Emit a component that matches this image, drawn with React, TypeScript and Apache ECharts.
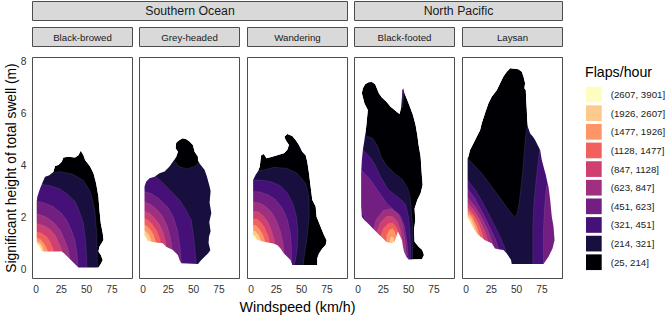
import React, { useEffect, useRef } from "react";
import * as echarts from "echarts";

const FONT = '"Liberation Sans", Arial, Helvetica, sans-serif';

// ---------- data ----------
const regionNames = ["Southern Ocean", "North Pacific"];
const regionPanelCounts = [3, 2];
const speciesNames = ["Black-browed", "Grey-headed", "Wandering", "Black-footed", "Laysan"];
const xTicks = [0, 25, 50, 75];
const yTicks = [0, 2, 4, 6, 8];
const flapLevels = [
  "(25, 214]", "(214, 321]", "(321, 451]", "(451, 623]", "(623, 847]",
  "(847, 1128]", "(1128, 1477]", "(1477, 1926]", "(1926, 2607]", "(2607, 3901]",
];
const magmaColors = [
  "#000004", "#180F3E", "#451077", "#721F81", "#9F2F7F",
  "#CD4071", "#F1605D", "#FD9567", "#FEC98D", "#FCFDBF",
];

// outline of the sampled region (lowest band) for each species: [windspeed, swell]
const blackBrowedHull = [
  [0.7, 2.59], [0.7, 1.05], [2.3, 0.86], [5.6, 0.67], [25.4, 0.67], [27.1, 0.63], [41.9, 0.06],
  [61.7, 0.06], [63.4, 0.15], [66.0, 0.35], [64.0, 0.54], [61.7, 0.67], [62.7, 0.86], [66.7, 1.12],
  [66.0, 1.37], [64.0, 1.76], [62.7, 2.27], [61.7, 2.78], [59.4, 3.3], [56.8, 3.68], [53.5, 3.94],
  [48.5, 4.19], [46.9, 4.38], [44.2, 4.55], [41.9, 4.38], [38.6, 4.29], [32.0, 4.32], [27.1, 4.29],
  [25.4, 4.13], [22.1, 4.0], [18.8, 3.96], [17.2, 3.74], [13.2, 3.61], [8.9, 3.55], [7.3, 3.4],
  [4.0, 3.1], [1.3, 2.78],
];
const greyHeadedHull = [
  [1.5, 3.17], [1.5, 1.24], [3.1, 1.11], [8.1, 1.05], [14.7, 1.01], [19.6, 0.99], [22.9, 0.86],
  [29.5, 0.73], [34.5, 0.54], [36.1, 0.35], [37.8, 0.22], [54.3, 0.19], [57.6, 0.35], [64.2, 0.6],
  [66.5, 0.72], [64.8, 1.0], [65.2, 1.24], [66.8, 1.45], [65.5, 1.8], [67.5, 2.15], [65.8, 2.55],
  [66.8, 3.0], [65.8, 3.17], [63.2, 3.55], [60.9, 3.81], [55.9, 4.06], [54.3, 4.19], [54.3, 4.32],
  [51.0, 4.51], [49.3, 4.77], [46.0, 4.9], [42.7, 4.99], [39.4, 5.03], [36.1, 4.96], [32.8, 4.86],
  [32.2, 4.64], [34.5, 4.51], [32.8, 4.32], [29.5, 4.13], [26.2, 3.94], [21.3, 3.75], [16.3, 3.68],
  [11.4, 3.55], [6.4, 3.49], [3.1, 3.36],
];
const wanderingHull = [
  [2.1, 1.24], [2.1, 3.42], [4.5, 3.62], [6.8, 3.75], [8.7, 3.94], [9.4, 4.19], [10.1, 4.38],
  [12.7, 4.42], [15.3, 4.26], [21.0, 4.32], [25.9, 4.38], [32.5, 4.45], [35.8, 4.58], [37.5, 4.77],
  [34.2, 4.96], [33.0, 5.09], [35.8, 5.19], [40.8, 5.12], [44.1, 4.96], [47.4, 4.77], [50.7, 4.51],
  [54.0, 4.38], [55.6, 4.13], [57.3, 3.68], [58.9, 3.17], [60.6, 2.65], [63.9, 2.4], [64.8, 2.01],
  [68.8, 1.63], [72.1, 1.31], [74.7, 1.11], [73.8, 0.92], [70.5, 0.79], [67.2, 0.6], [65.5, 0.41],
  [65.5, 0.15], [40.8, 0.15], [39.1, 0.35], [35.8, 0.47], [32.5, 0.6], [29.2, 0.79], [25.9, 0.92],
  [21.0, 0.99], [17.7, 1.01], [12.7, 1.05], [7.8, 1.11], [2.8, 1.18],
];
const blackFootedHull = [
  [4.8, 6.95], [7.1, 7.11], [10.4, 7.18], [13.7, 7.19], [17.0, 7.11], [18.6, 6.95], [20.6, 6.76],
  [23.6, 6.6], [27.9, 6.44], [32.2, 6.24], [36.1, 6.12], [39.4, 6.01], [41.1, 5.96], [42.7, 6.24],
  [43.4, 6.63], [43.7, 6.88], [44.7, 6.95], [46.0, 6.76], [48.7, 6.5], [51.3, 6.24], [54.3, 5.92],
  [56.9, 5.54], [58.6, 5.15], [59.9, 4.77], [61.9, 4.32], [62.5, 3.94], [63.2, 3.55], [63.9, 3.23],
  [61.9, 2.91], [58.6, 2.65], [55.9, 2.33], [56.6, 1.88], [55.3, 1.5], [55.9, 1.05], [59.9, 0.86],
  [63.5, 0.73], [65.2, 0.54], [63.2, 0.38], [50.0, 0.37], [47.7, 0.47], [45.4, 0.67], [44.4, 0.86],
  [43.4, 1.11], [41.1, 1.31], [39.4, 1.44], [37.8, 1.24], [36.1, 1.05], [32.8, 0.99], [27.9, 1.05],
  [24.6, 1.18], [19.6, 1.37], [14.7, 1.56], [9.7, 1.76], [6.4, 1.88], [3.8, 2.01], [3.1, 2.4],
  [3.1, 2.91], [3.1, 3.68], [3.8, 4.19], [4.8, 4.58], [6.4, 4.96], [8.1, 5.47], [9.7, 6.12],
  [6.4, 6.37], [3.8, 6.76],
];
const laysanHull = [
  [1.6, 1.88], [1.6, 4.26], [2.3, 4.32], [4.0, 4.58], [7.3, 4.83], [10.6, 5.09], [13.9, 5.34],
  [15.5, 5.6], [18.8, 5.99], [22.1, 6.37], [25.4, 6.63], [30.4, 6.88], [33.7, 7.14], [37.0, 7.4],
  [40.3, 7.59], [43.6, 7.72], [51.8, 7.68], [55.1, 7.59], [56.8, 7.4], [58.4, 7.14], [57.7, 6.95],
  [59.1, 6.88], [59.5, 6.5], [60.1, 6.12], [60.5, 5.7], [61.1, 5.47], [63.4, 5.21], [66.0, 5.1],
  [68.3, 4.96], [71.0, 4.75], [73.3, 4.58], [74.9, 4.19], [77.5, 3.81], [78.9, 3.62], [79.9, 3.42],
  [81.5, 3.17], [83.2, 2.65], [84.8, 2.01], [86.5, 1.63], [87.5, 1.11], [85.5, 0.79], [81.5, 0.47],
  [76.6, 0.19], [45.2, 0.19], [44.5, 0.35], [40.3, 0.6], [37.0, 0.73], [32.0, 0.76], [28.7, 0.79],
  [25.4, 0.99], [18.8, 1.11], [12.2, 1.31], [7.3, 1.56], [4.0, 1.75], [2.3, 1.88],
];

// regions above each break (214, 321, 451, 623, 847, 1128, 1477, 1926, 2607), one list of polygons per break
const blackBrowedBands = [
  [[[-20, -3], [-20, 3.45], [0, 3.47], [6, 3.5], [15, 3.68], [24, 3.75], [36, 3.65], [47, 3.4], [54, 2.95], [58, 2.3], [60, 1.4], [60.6, 0.5], [61, -3]]],
  [[[-20, -3], [-20, 3.3], [0, 3.3], [4, 3.27], [14, 3.2], [24, 3.08], [32, 2.85], [38.6, 2.6], [43, 2.2], [46.8, 1.76], [49, 1.1], [50.2, 0.3], [50.5, -3]]],
  [[[-20, -3], [-20, 2.62], [0, 2.62], [8, 2.55], [17, 2.4], [25, 2.15], [30.4, 1.88], [35, 1.5], [38.6, 1.1], [40.5, 0.6], [41.6, 0.09], [42, -3]]],
  [[[-20, -3], [-20, 2.14], [0, 2.14], [10, 2.0], [18, 1.78], [23.8, 1.5], [28.5, 1.1], [32, 0.73], [34, 0.2], [34.5, -3]]],
  [[[-20, -3], [-20, 1.76], [0, 1.76], [8, 1.66], [14, 1.52], [19, 1.3], [22.5, 1.0], [25.4, 0.73], [27, 0.3], [27.5, -3]]],
  [[[-20, -3], [-20, 1.44], [0, 1.44], [6, 1.37], [10.6, 1.24], [14, 1.05], [17.1, 0.73], [18.5, 0.3], [19, -3]]],
  [[[-20, -3], [-20, 1.22], [0, 1.22], [5, 1.12], [9, 0.9], [12.2, 0.65], [13, -3]]],
  [[[-20, -3], [-20, 1.08], [0, 1.08], [4, 1.0], [6.5, 0.85], [8.5, 0.6], [9, -3]]],
  [[[-20, -3], [-20, 0.97], [0, 0.97], [3, 0.92], [5, 0.8], [6.5, 0.6], [7, -3]]],
];
const greyHeadedBands = [
  [[[-20, -3], [-20, 9], [29, 9], [29.5, 4.5], [31, 4.15], [36, 3.93], [44, 3.85], [52, 3.97], [56, 4.15], [58, 4.5], [59, 9], [110, 9], [110, -3]]],
  [[[-20, -3], [-20, 3.7], [5, 3.68], [11.4, 3.6], [20, 3.3], [28, 2.98], [36.1, 2.65], [42, 2.3], [47.7, 1.88], [50.5, 1.1], [52.6, 0.22], [53, -3]]],
  [[[-20, -3], [-20, 3.0], [1, 2.98], [8, 2.9], [16, 2.7], [24, 2.4], [30, 2.0], [34, 1.5], [36.5, 0.9], [38, 0.2], [38.5, -3]]],
  [[[-20, -3], [-20, 2.6], [1, 2.58], [7, 2.5], [13, 2.32], [19, 2.05], [24, 1.65], [27, 1.2], [29, 0.7], [30, -3]]],
  [[[-20, -3], [-20, 2.25], [1, 2.22], [6, 2.15], [11, 1.98], [16, 1.72], [20, 1.38], [22.5, 1.0], [24, -3]]],
  [[[-20, -3], [-20, 1.97], [1, 1.95], [5, 1.88], [9, 1.72], [13, 1.5], [16, 1.22], [18, 0.95], [19, -3]]],
  [[[-20, -3], [-20, 1.72], [1, 1.7], [4, 1.64], [7.5, 1.5], [10.5, 1.3], [12.5, 1.05], [13.5, -3]]],
  [[[-20, -3], [-20, 1.5], [1, 1.48], [3.5, 1.42], [6, 1.3], [8, 1.13], [9, -3]]],
  [[[-20, -3], [-20, 1.32], [1, 1.3], [3, 1.24], [4.5, 1.12], [5.5, -3]]],
];
const wanderingBands = [
  [[[-20, -3], [-20, 3.75], [2, 3.76], [8, 3.78], [12.7, 3.81], [22.6, 3.91], [35.8, 3.87], [45.7, 3.68], [54, 3.3], [57.3, 2.78], [57.5, 2.0], [55.6, 1.24], [53, 0.6], [51.7, 0.15], [51.5, -3]]],
  [[[-20, -3], [-20, 3.42], [10, 3.42], [20, 3.36], [29, 3.2], [36, 2.92], [41.5, 2.5], [45, 2.0], [46.5, 1.4], [45.5, 0.7], [43, 0.15], [42.5, -3]]],
  [[[-20, -3], [-20, 3.0], [8, 2.97], [16, 2.88], [24, 2.68], [31, 2.35], [36, 1.9], [39, 1.35], [40, 0.8], [40.5, -3]]],
  [[[-20, -3], [-20, 2.6], [8, 2.55], [14, 2.42], [20, 2.2], [25, 1.88], [29, 1.45], [31.5, 1.0], [33, 0.5], [34, -3]]],
  [[[-20, -3], [-20, 2.25], [7, 2.2], [12, 2.05], [16.5, 1.82], [20, 1.5], [23, 1.1], [24.5, 0.7], [25.5, -3]]],
  [[[-20, -3], [-20, 1.97], [6, 1.92], [10, 1.78], [13.5, 1.58], [16.5, 1.3], [18.5, 1.0], [19.5, -3]]],
  [[[-20, -3], [-20, 1.72], [5, 1.67], [8, 1.55], [11, 1.37], [13.5, 1.12], [14.5, -3]]],
  [[[-20, -3], [-20, 1.5], [4, 1.46], [6.5, 1.36], [8.5, 1.22], [10, 1.05], [10.5, -3]]],
  [[[-20, -3], [-20, 1.33], [3.5, 1.3], [5, 1.2], [6, 1.1], [6.5, -3]]],
];
const blackFootedBands = [
  [
    [[-20, -3], [-20, 5.2], [3, 5.18], [6.4, 5.15], [14.7, 5.03], [19.6, 4.71], [22.9, 4.32], [27.9, 4.0], [36.1, 3.68], [44.4, 3.42], [49.3, 3.1], [52, 2.65], [53.3, 2.01], [54.3, 1.37], [54.3, 0.86], [53.6, 0.35], [53.5, -3]],
    [[41.5, 6.2], [42.5, 7.0], [44.5, 7.3], [46.5, 6.9], [45, 6.6], [43.8, 6.2]],
  ],
  [
    [[-20, -3], [-20, 4.62], [3, 4.6], [6, 4.55], [12, 4.3], [17, 4.0], [23, 3.5], [30, 3.05], [40, 2.75], [47, 2.5], [50, 2.0], [51.5, 1.4], [52, 0.7], [52, -3]],
    [[42, 6.5], [43, 7.0], [44.5, 7.1], [45, 6.85], [44, 6.6], [43, 6.4]],
  ],
  [[[-20, 2.45], [-20, 3.85], [3, 3.8], [6, 3.7], [12, 3.45], [20, 3.0], [28, 2.55], [36, 2.25], [42, 2.05], [46, 1.65], [48.5, 1.0], [50, 0.3], [50.5, -3], [25, -3], [18, 1.0], [10, 1.6], [5, 2.1]]],
  [[[14, -3], [14, 1.3], [18, 1.9], [25, 2.25], [33, 2.32], [40, 2.12], [44, 1.7], [46.5, 1.1], [48, 0.4], [48.5, -3]]],
  [[[18, -3], [18, 1.35], [22, 1.78], [28, 2.02], [34, 2.02], [39, 1.82], [42, 1.45], [44.5, 0.9], [46.5, 0.3], [47, -3]]],
  [[[22, -3], [22, 1.2], [25, 1.55], [30, 1.75], [35, 1.75], [38.5, 1.55], [41, 1.2], [43.5, 0.7], [45.2, 0.2], [45.5, -3]]],
  [[[28, 0.85], [28.5, 1.3], [31, 1.5], [34, 1.55], [36.5, 1.42], [38, 1.15], [38, 0.85]]],
  [[[31, 0.85], [31.5, 1.12], [33, 1.25], [35, 1.2], [36, 1.0], [36, 0.85]]],
  [],
];
const laysanBands = [
  [[[-20, -3], [-20, 4.45], [1.6, 4.26], [15.5, 3.68], [25.4, 3.17], [35.3, 2.65], [43.6, 2.2], [47.8, 2.01], [50.2, 2.11], [52.5, 2.52], [54.4, 3.17], [56.1, 3.81], [57.7, 4.58], [59.1, 5.21], [61, 5.6], [64, 9], [110, 9], [110, -3]]],
  [
    [[-20, -3], [-20, 3.5], [1.6, 3.42], [10, 3.0], [18, 2.45], [26, 1.85], [33, 1.3], [38, 0.85], [42, 0.35], [44, -3]],
    [[67, -3], [66, 0.5], [66, 1.5], [67, 2.5], [69, 3.3], [71.5, 4.2], [74, 5], [80, 9], [110, 9], [110, -3]],
  ],
  [
    [[-20, -3], [-20, 3.15], [1.6, 3.1], [9, 2.7], [16, 2.2], [23, 1.65], [29, 1.15], [33, 0.7], [36, -3]],
    [[77, -3], [76.5, 0.5], [76.5, 1.5], [77.5, 2.3], [79, 3.0], [81, 3.5], [86, 5], [110, 5], [110, -3]],
  ],
  [[[-20, -3], [-20, 2.8], [1.6, 2.75], [9, 2.4], [16, 1.95], [22, 1.45], [27, 0.9], [28, -3]]],
  [[[-20, -3], [-20, 2.6], [1.6, 2.54], [8, 2.25], [14, 1.85], [19, 1.4], [23, 0.9], [24, -3]]],
  [[[-20, -3], [-20, 2.42], [1.6, 2.36], [7, 2.12], [12, 1.78], [16.5, 1.3], [19, 0.8], [20, -3]]],
  [[[-20, -3], [-20, 2.28], [1.6, 2.22], [6, 2.02], [10, 1.7], [14, 1.25], [15, -3]]],
  [[[-20, -3], [-20, 2.16], [1.6, 2.1], [5, 1.95], [9, 1.6], [12, 1.2], [13, -3]]],
  [[[-20, -3], [-20, 2.06], [1.6, 2.0], [4, 1.85], [7, 1.6], [9, 1.3], [10, -3]]],
];

const hulls = [blackBrowedHull, greyHeadedHull, wanderingHull, blackFootedHull, laysanHull];
const bandSets = [blackBrowedBands, greyHeadedBands, wanderingBands, blackFootedBands, laysanBands];

// ---------- layout ----------
const panelLefts = [32.5, 139.5, 247.5, 354.5, 462.5];
const PANEL_W = 100;
const PANEL_TOP = 57.5;
const PANEL_H = 221;
const X_MIN = -3.46;
const X_MAX = 95.36;
const Y_MIN = -0.365;
const Y_MAX = 8.135;
const BORDER = "#4d4d4d";
const TICK_TEXT = "#333333";

function signedArea(pts: number[][]) {
  let s = 0;
  for (let i = 0; i < pts.length; i++) {
    const p = pts[i];
    const q = pts[(i + 1) % pts.length];
    s += p[0] * q[1] - q[0] * p[1];
  }
  return s;
}
function toPathD(pts: number[][]) {
  return "M" + pts.map((p) => p[0].toFixed(2) + " " + p[1].toFixed(2)).join("L") + "Z";
}

export default function App() {
  const ref = useRef<HTMLDivElement>(null);
  useEffect(() => {
    const chart = echarts.init(ref.current as HTMLDivElement, null, { renderer: "svg" });

    const grids: any[] = [];
    const xAxes: any[] = [];
    const yAxes: any[] = [];
    const series: any[] = [];

    speciesNames.forEach((name, i) => {
      grids.push({ left: panelLefts[i], top: PANEL_TOP, width: PANEL_W, height: PANEL_H, containLabel: false });
      xAxes.push({
        gridIndex: i, type: "value", min: X_MIN, max: X_MAX,
        axisLine: { show: false }, splitLine: { show: false },
        axisTick: { show: true, length: 3.6, lineStyle: { color: "#333", width: 1 }, customValues: xTicks },
        axisLabel: { show: true, customValues: xTicks, fontSize: 10.2, color: TICK_TEXT, margin: 6, fontFamily: FONT },
      });
      yAxes.push({
        gridIndex: i, type: "value", min: Y_MIN, max: Y_MAX,
        axisLine: { show: false }, splitLine: { show: false },
        axisTick: { show: i === 0, length: 3.6, lineStyle: { color: "#333", width: 1 }, customValues: yTicks },
        axisLabel: { show: i === 0, customValues: yTicks, fontSize: 10.2, color: TICK_TEXT, margin: 6, fontFamily: FONT },
      });
      const hull = hulls[i];
      const bands = bandSets[i];
      series.push({
        type: "custom", name, xAxisIndex: i, yAxisIndex: i, clip: true, silent: true,
        data: [[0, 0]],
        renderItem: (params: any, api: any) => {
          const cs = params.coordSys;
          const px = (poly: number[][]) => poly.map((p) => api.coord(p));
          const children: any[] = [];
          const hullPx = px(hull);
          children.push({ type: "polygon", shape: { points: hullPx }, style: { fill: magmaColors[0] } });
          bands.forEach((polys: number[][][], k: number) => {
            polys.forEach((poly) => {
              children.push({
                type: "polygon",
                shape: { points: px(poly) },
                style: { fill: magmaColors[k + 1], stroke: "rgba(255,255,255,0.18)", lineWidth: 0.5 },
              });
            });
          });
          const outer = [
            [cs.x - 3, cs.y - 3], [cs.x + cs.width + 3, cs.y - 3],
            [cs.x + cs.width + 3, cs.y + cs.height + 3], [cs.x - 3, cs.y + cs.height + 3],
          ];
          let inner = hullPx.slice();
          if (Math.sign(signedArea(inner)) === Math.sign(signedArea(outer))) inner = inner.reverse();
          children.push({ type: "path", shape: { pathData: toPathD(outer) + toPathD(inner) }, style: { fill: "#ffffff" } });
          return { type: "group", children };
        },
      });
    });

    const graphic: any[] = [];
    // region strips
    let start = 0;
    regionNames.forEach((r, ri) => {
      const n = regionPanelCounts[ri];
      const x0 = panelLefts[start];
      const x1 = panelLefts[start + n - 1] + PANEL_W;
      graphic.push({ type: "rect", z: 100, shape: { x: x0, y: 1.5, width: x1 - x0, height: 19 }, style: { fill: "#d9d9d9", stroke: BORDER, lineWidth: 1 } });
      graphic.push({ type: "text", z: 101, x: (x0 + x1) / 2, y: 11.2, style: { text: r, fontSize: 12.3, fontFamily: FONT, fill: "#1a1a1a", align: "center", verticalAlign: "middle", textAlign: "center", textVerticalAlign: "middle" } });
      start += n;
    });
    // species strips and panel borders
    speciesNames.forEach((s, i) => {
      const x0 = panelLefts[i];
      graphic.push({ type: "rect", z: 100, shape: { x: x0, y: 27.5, width: PANEL_W, height: 19 }, style: { fill: "#d9d9d9", stroke: BORDER, lineWidth: 1 } });
      graphic.push({ type: "text", z: 101, x: x0 + PANEL_W / 2, y: 37.2, style: { text: s, fontSize: 9.7, fontFamily: FONT, fill: "#1a1a1a", align: "center", verticalAlign: "middle", textAlign: "center", textVerticalAlign: "middle" } });
      graphic.push({ type: "rect", z: 100, shape: { x: x0, y: PANEL_TOP, width: PANEL_W, height: PANEL_H }, style: { fill: "none", stroke: BORDER, lineWidth: 1 } });
    });
    // axis titles
    graphic.push({ type: "text", z: 101, x: 11, y: PANEL_TOP + PANEL_H / 2, rotation: Math.PI / 2, style: { text: "Significant height of total swell (m)", fontSize: 13.8, fontFamily: FONT, fill: "#000", align: "center", verticalAlign: "middle", textAlign: "center", textVerticalAlign: "middle" } });
    graphic.push({ type: "text", z: 101, x: (panelLefts[0] + panelLefts[4] + PANEL_W) / 2, y: 306.5, style: { text: "Windspeed (km/h)", fontSize: 14.3, fontFamily: FONT, fill: "#000", align: "center", verticalAlign: "middle", textAlign: "center", textVerticalAlign: "middle" } });
    // legend
    graphic.push({ type: "text", z: 101, x: 585, y: 71.5, style: { text: "Flaps/hour", fontSize: 14.2, fontFamily: FONT, fill: "#000", align: "left", verticalAlign: "middle", textAlign: "left", textVerticalAlign: "middle" } });
    for (let j = 0; j < flapLevels.length; j++) {
      const idx = flapLevels.length - 1 - j;
      const top = 86.7 + j * 18.63;
      graphic.push({ type: "rect", z: 100, shape: { x: 586, y: top, width: 15.7, height: 15.7 }, style: { fill: magmaColors[idx] } });
      graphic.push({ type: "text", z: 101, x: 610.7, y: top + 7.85, style: { text: flapLevels[idx], fontSize: 9.7, fontFamily: FONT, fill: "#1a1a1a", align: "left", verticalAlign: "middle", textAlign: "left", textVerticalAlign: "middle" } });
    }

    chart.setOption({
      animation: false,
      backgroundColor: "#ffffff",
      grid: grids,
      xAxis: xAxes,
      yAxis: yAxes,
      series,
      graphic,
    });
    return () => chart.dispose();
  }, []);
  return <div ref={ref} style={{ position: "fixed", left: 0, top: 0, width: 669, height: 315, background: "#fff" }} />;
}
